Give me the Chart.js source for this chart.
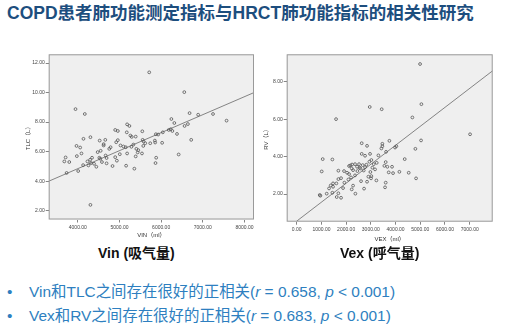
<!DOCTYPE html>
<html>
<head>
<meta charset="utf-8">
<script src="https://cdn.jsdelivr.net/npm/chart.js@4.4.1/dist/chart.umd.min.js"></script>
<style>
  html, body { margin:0; padding:0; background:#fff; }
  body { width:507px; height:330px; position:relative; overflow:hidden;
         font-family:"Liberation Sans","Noto Sans CJK SC",sans-serif; }
  .abs { position:absolute; }
  #title { left:7px; top:1px; font-size:17.5px; font-weight:bold; color:#1d4e7e; white-space:nowrap; line-height:24px; }
  .sub { top:243px; font-size:14px; font-weight:bold; color:#111; white-space:nowrap; line-height:20px; }
  .bul { left:0; font-size:15.45px; color:#2e7fc0; white-space:nowrap; line-height:20px; }
  .bul .dot { position:absolute; left:7px; }
  .bul .txt { position:absolute; left:29px; }
</style>
</head>
<body>
<div id="title" class="abs">COPD患者肺功能测定指标与HRCT肺功能指标的相关性研究</div>
<div class="abs" style="left:0;top:40px;width:262px;height:200px;"><canvas id="c1"></canvas></div>
<div class="abs" style="left:255px;top:40px;width:252px;height:210px;"><canvas id="c2"></canvas></div>
<div class="abs sub" style="left:98px;">Vin (吸气量)</div>
<div class="abs sub" style="left:340px;">Vex (呼气量)</div>
<div class="abs bul" style="top:282px;"><span class="dot">•</span><span class="txt">Vin和TLC之间存在很好的正相关(<i>r</i> = 0.658, <i>p</i> &lt; 0.001)</span></div>
<div class="abs bul" style="top:306px;"><span class="dot">•</span><span class="txt">Vex和RV之间存在很好的正相关(<i>r</i> = 0.683, <i>p</i> &lt; 0.001)</span></div>
<script>
// ---- data ----
const vinX = [5714,6556,3944,4167,6683,6889,7246,7571,6246,6317,5183,5238,4897,4960,5175,5548,6563,6643,6183,6230,6270,6381,6040,5873,5929,5262,5294,5389,4302,4135,4524,4659,4960,4921,5556,5579,5619,5738,5849,5857,6024,6722,5024,5095,5151,5286,5333,5405,5452,5571,4056,3968,4087,4619,4619,4548,4476,3976,3706,3675,3794,3730,4008,4127,4230,4294,4341,4317,4254,4389,4444,4516,4540,4579,4667,4754,4786,4690,4690,4833,4897,4937,5008,5159,5183,5357,5389,5437,5865,5881,5540,6421,4302];
const tlcY = [11.37,10.03,8.88,8.55,8.61,8.50,8.55,8.10,8.21,7.94,7.85,7.74,7.47,7.40,7.31,7.38,7.74,7.87,7.47,7.52,7.40,7.20,7.31,7.18,7.16,7.09,7.00,7.02,6.98,6.87,6.75,6.80,6.78,6.64,6.80,6.69,6.57,6.57,6.75,6.62,6.60,6.80,6.42,6.35,6.30,6.33,6.48,6.19,6.10,6.39,6.28,6.39,5.88,6.42,6.51,6.06,5.97,5.70,5.61,5.34,5.30,4.56,4.69,5.09,5.34,5.45,5.59,5.23,5.07,5.18,4.98,5.59,5.52,5.30,5.74,6.19,6.30,5.57,5.21,5.03,5.63,5.39,5.83,5.05,5.88,4.85,5.68,5.95,5.23,5.59,5.88,5.81,2.40];
const vinFitX = [3300, 8230];
const tlcFitY = [4.0, 10.0];
const vinTicks = [4000,5000,6000,7000,8000];
const tlcTicks = [2,4,6,8,10,12];
const vinRange = [3300, 8230];
const tlcRange = [1.41, 12.59];

const vexX = [4991,5045,4680,2954,3439,1592,7014,5031,3750,2630,2846,3466,3466,3426,4033,3979,4802,2967,2630,2765,3305,3615,1052,1443,4370,1012,1686,1915,2172,2360,2441,2226,2576,2671,2819,2940,3021,3116,3237,3601,3547,3668,3857,3723,3898,4154,4532,4829,3601,3574,3008,2900,3021,3224,2846,2603,2725,2360,2199,2280,2226,2374,1929,1686,1605,1470,1376,1308,1443,1214,958,931,1619,1794,1686,2118,2037,2455,2711,2091,1794,1470,1875,2118,2240,2549,3170,2981,3062,2765,2522,2280];
const rvY = [8.96,6.81,6.10,6.66,6.54,6.01,5.20,4.87,4.85,4.72,4.58,4.69,4.56,4.44,4.56,4.49,4.42,4.15,4.15,4.05,4.07,4.26,3.87,3.85,3.87,3.21,3.25,3.23,3.53,3.60,3.46,3.37,3.37,3.55,3.57,3.73,3.82,3.60,3.67,3.71,3.51,3.46,3.46,3.16,3.12,3.19,3.14,2.84,2.61,2.36,2.84,2.93,2.96,2.73,2.66,2.69,2.29,3.00,2.89,2.45,2.25,2.02,2.61,2.80,2.57,2.57,2.46,2.30,2.07,2.02,1.91,1.95,1.84,1.80,2.04,3.07,3.14,3.23,3.26,2.78,2.85,2.39,2.32,3.50,3.58,3.41,3.32,3.18,3.41,3.44,3.60,3.28];
const vexFitX = [0, 7930];
const rvFitY = [0.55, 8.6];
const vexTicks = [0,1000,2000,3000,4000,5000,6000,7000];
const rvTicks = [2,4,6,8];
const vexRange = [-405, 7930];
const rvRange = [0.52, 9.48];

// ---- rendering ----
Chart.defaults.font.family = '"Liberation Sans","Noto Sans CJK SC",sans-serif';
Chart.defaults.animation = false;

const framePlugin = {
  id: 'frame',
  beforeDraw(chart) {
    const a = chart.chartArea, ctx = chart.ctx;
    ctx.save();
    ctx.fillStyle = '#efefef';
    ctx.fillRect(a.left, a.top, a.right - a.left, a.bottom - a.top);
    ctx.restore();
  },
  afterDraw(chart) {
    const a = chart.chartArea, ctx = chart.ctx;
    ctx.save();
    ctx.strokeStyle = '#9a9a9a';
    ctx.lineWidth = 1;
    ctx.strokeRect(a.left + 0.5, a.top + 0.5, a.right - a.left - 1, a.bottom - a.top - 1);
    ctx.restore();
  }
};

function pts(xs, ys) { return xs.map((x, i) => ({ x: x, y: ys[i] })); }

function makeChart(id, o) {
  return new Chart(document.getElementById(id), {
    type: 'scatter',
    data: {
      datasets: [
        { data: pts(o.xs, o.ys), pointRadius: 1.4, pointBorderWidth: 0.8,
          borderColor: '#555', backgroundColor: 'rgba(255,255,255,0)', pointHoverRadius: 1.4 },
        { type: 'line', data: pts(o.fx, o.fy), showLine: true, pointRadius: 0,
          borderColor: '#777', borderWidth: 0.9, fill: false }
      ]
    },
    options: {
      responsive: true, maintainAspectRatio: false,
      layout: { padding: o.pad },
      plugins: { legend: { display: false }, tooltip: { enabled: false } },
      scales: {
        x: {
          type: 'linear', min: o.xr[0], max: o.xr[1],
          afterBuildTicks: s => { s.ticks = o.xt.map(v => ({ value: v })); },
          afterFit: s => { s.height = o.xh; },
          ticks: { callback: v => Number(v).toFixed(2), font: { size: 5 }, color: '#444', padding: 2, maxRotation: 0, autoSkip: false },
          grid: { drawOnChartArea: false, drawTicks: true, tickLength: 3, color: '#666', lineWidth: 0.8 },
          border: { display: false },
          title: { display: true, text: o.xtitle, font: { size: 6 }, color: '#333', padding: { top: 0, bottom: o.xtp } }
        },
        y: {
          type: 'linear', min: o.yr[0], max: o.yr[1],
          afterBuildTicks: s => { s.ticks = o.yt.map(v => ({ value: v })); },
          afterFit: s => { s.width = o.yw; },
          ticks: { callback: v => Number(v).toFixed(2), font: { size: 5 }, color: '#444', padding: 1, autoSkip: false },
          grid: { drawOnChartArea: false, drawTicks: true, tickLength: 3, color: '#666', lineWidth: 0.8 },
          border: { display: false },
          title: { display: true, text: o.ytitle, font: { size: 6 }, color: '#333', padding: { top: o.ytp, bottom: 0 } }
        }
      }
    },
    plugins: [framePlugin]
  });
}

makeChart('c1', {
  xs: vinX, ys: tlcY, fx: vinFitX, fy: tlcFitY,
  xr: vinRange, yr: tlcRange, xt: vinTicks, yt: tlcTicks,
  pad: { left: 0, top: 14.3, right: 8, bottom: 0 },
  yw: 48.7, xh: 20.5, xtitle: 'VIN（ml）', ytitle: 'TLC（L）', xtp: 1, ytp: 24.7
});
makeChart('c2', {
  xs: vexX, ys: rvY, fx: vexFitX, fy: rvFitY,
  xr: vexRange, yr: rvRange, xt: vexTicks, yt: rvTicks,
  pad: { left: 0, top: 14.3, right: 14.3, bottom: 0 },
  yw: 31.7, xh: 28.3, xtitle: 'VEX（ml）', ytitle: 'RV（L）', xtp: 7.4, ytp: 8.1
});
</script>
</body>
</html>
